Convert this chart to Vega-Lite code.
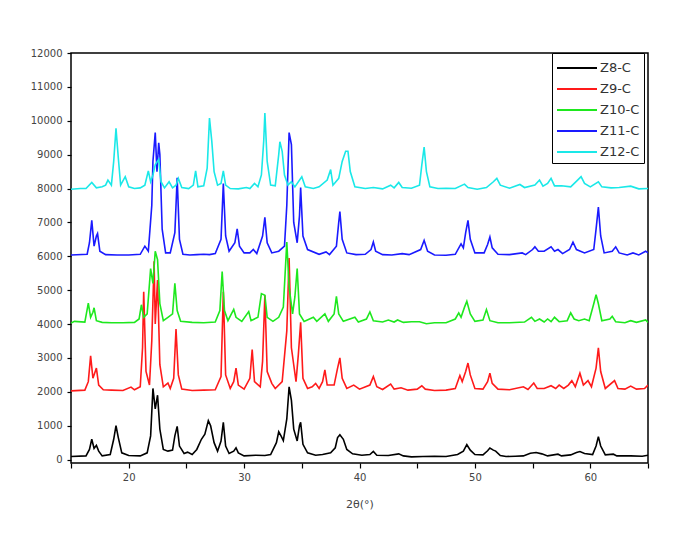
{
  "$schema": "https://vega.github.io/schema/vega-lite/v6.json",
  "width": 577,
  "height": 410,
  "autosize": {"type": "none"},
  "padding": {"left": 71, "top": 53, "right": 45, "bottom": 83},
  "background": "white",
  "config": {
    "view": {"stroke": "black", "strokeWidth": 1.5},
    "font": "DejaVu Sans"
  },
  "datasets": {
    "xrd": [
      {"s":"Z8-C","x":15.0,"y":90},{"s":"Z8-C","x":16.3,"y":110},{"s":"Z8-C","x":16.6,"y":300},{"s":"Z8-C","x":16.8,"y":600},{"s":"Z8-C","x":17.0,"y":330},{"s":"Z8-C","x":17.2,"y":420},{"s":"Z8-C","x":17.4,"y":250},{"s":"Z8-C","x":17.7,"y":110},{"s":"Z8-C","x":18.4,"y":150},{"s":"Z8-C","x":18.7,"y":600},{"s":"Z8-C","x":18.9,"y":1000},{"s":"Z8-C","x":19.1,"y":650},{"s":"Z8-C","x":19.4,"y":200},{"s":"Z8-C","x":20.0,"y":120},{"s":"Z8-C","x":21.0,"y":110},{"s":"Z8-C","x":21.6,"y":200},{"s":"Z8-C","x":21.9,"y":700},{"s":"Z8-C","x":22.1,"y":2100},{"s":"Z8-C","x":22.3,"y":1500},{"s":"Z8-C","x":22.5,"y":1900},{"s":"Z8-C","x":22.7,"y":900},{"s":"Z8-C","x":23.0,"y":300},{"s":"Z8-C","x":23.4,"y":250},{"s":"Z8-C","x":23.8,"y":280},{"s":"Z8-C","x":24.0,"y":700},{"s":"Z8-C","x":24.2,"y":980},{"s":"Z8-C","x":24.4,"y":400},{"s":"Z8-C","x":24.8,"y":180},{"s":"Z8-C","x":25.1,"y":220},{"s":"Z8-C","x":25.5,"y":150},{"s":"Z8-C","x":25.9,"y":300},{"s":"Z8-C","x":26.3,"y":600},{"s":"Z8-C","x":26.6,"y":750},{"s":"Z8-C","x":26.9,"y":1150},{"s":"Z8-C","x":27.1,"y":1000},{"s":"Z8-C","x":27.4,"y":500},{"s":"Z8-C","x":27.7,"y":250},{"s":"Z8-C","x":28.0,"y":550},{"s":"Z8-C","x":28.2,"y":1100},{"s":"Z8-C","x":28.4,"y":400},{"s":"Z8-C","x":28.7,"y":180},{"s":"Z8-C","x":29.1,"y":250},{"s":"Z8-C","x":29.3,"y":350},{"s":"Z8-C","x":29.5,"y":200},{"s":"Z8-C","x":30.0,"y":110},{"s":"Z8-C","x":31.0,"y":130},{"s":"Z8-C","x":31.8,"y":120},{"s":"Z8-C","x":32.3,"y":150},{"s":"Z8-C","x":32.8,"y":500},{"s":"Z8-C","x":33.0,"y":820},{"s":"Z8-C","x":33.2,"y":700},{"s":"Z8-C","x":33.4,"y":560},{"s":"Z8-C","x":33.7,"y":1200},{"s":"Z8-C","x":33.9,"y":2150},{"s":"Z8-C","x":34.1,"y":1750},{"s":"Z8-C","x":34.3,"y":900},{"s":"Z8-C","x":34.6,"y":550},{"s":"Z8-C","x":34.8,"y":1000},{"s":"Z8-C","x":34.9,"y":1100},{"s":"Z8-C","x":35.1,"y":450},{"s":"Z8-C","x":35.5,"y":200},{"s":"Z8-C","x":36.2,"y":130},{"s":"Z8-C","x":36.8,"y":150},{"s":"Z8-C","x":37.5,"y":200},{"s":"Z8-C","x":37.9,"y":350},{"s":"Z8-C","x":38.1,"y":650},{"s":"Z8-C","x":38.3,"y":730},{"s":"Z8-C","x":38.6,"y":600},{"s":"Z8-C","x":38.9,"y":300},{"s":"Z8-C","x":39.4,"y":170},{"s":"Z8-C","x":40.2,"y":130},{"s":"Z8-C","x":40.9,"y":150},{"s":"Z8-C","x":41.2,"y":240},{"s":"Z8-C","x":41.5,"y":130},{"s":"Z8-C","x":42.5,"y":120},{"s":"Z8-C","x":43.4,"y":170},{"s":"Z8-C","x":43.8,"y":110},{"s":"Z8-C","x":44.5,"y":80},{"s":"Z8-C","x":45.5,"y":90},{"s":"Z8-C","x":46.5,"y":100},{"s":"Z8-C","x":47.5,"y":90},{"s":"Z8-C","x":48.5,"y":150},{"s":"Z8-C","x":49.0,"y":250},{"s":"Z8-C","x":49.3,"y":440},{"s":"Z8-C","x":49.6,"y":280},{"s":"Z8-C","x":50.0,"y":150},{"s":"Z8-C","x":50.7,"y":140},{"s":"Z8-C","x":51.1,"y":260},{"s":"Z8-C","x":51.3,"y":340},{"s":"Z8-C","x":51.6,"y":280},{"s":"Z8-C","x":51.8,"y":250},{"s":"Z8-C","x":52.2,"y":120},{"s":"Z8-C","x":52.7,"y":90},{"s":"Z8-C","x":53.5,"y":100},{"s":"Z8-C","x":54.2,"y":110},{"s":"Z8-C","x":54.8,"y":190},{"s":"Z8-C","x":55.3,"y":210},{"s":"Z8-C","x":55.8,"y":170},{"s":"Z8-C","x":56.3,"y":110},{"s":"Z8-C","x":57.2,"y":160},{"s":"Z8-C","x":57.5,"y":110},{"s":"Z8-C","x":58.3,"y":140},{"s":"Z8-C","x":58.8,"y":210},{"s":"Z8-C","x":59.1,"y":240},{"s":"Z8-C","x":59.5,"y":180},{"s":"Z8-C","x":60.2,"y":150},{"s":"Z8-C","x":60.5,"y":400},{"s":"Z8-C","x":60.7,"y":680},{"s":"Z8-C","x":60.9,"y":400},{"s":"Z8-C","x":61.3,"y":140},{"s":"Z8-C","x":62.0,"y":160},{"s":"Z8-C","x":62.3,"y":110},{"s":"Z8-C","x":63.5,"y":110},{"s":"Z8-C","x":64.5,"y":100},{"s":"Z8-C","x":65.0,"y":130},

      {"s":"Z9-C","x":15.0,"y":2030},{"s":"Z9-C","x":16.2,"y":2050},{"s":"Z9-C","x":16.5,"y":2300},{"s":"Z9-C","x":16.7,"y":3060},{"s":"Z9-C","x":16.9,"y":2400},{"s":"Z9-C","x":17.1,"y":2600},{"s":"Z9-C","x":17.2,"y":2700},{"s":"Z9-C","x":17.4,"y":2200},{"s":"Z9-C","x":17.8,"y":2060},{"s":"Z9-C","x":18.5,"y":2050},{"s":"Z9-C","x":19.5,"y":2040},{"s":"Z9-C","x":20.2,"y":2140},{"s":"Z9-C","x":20.5,"y":2060},{"s":"Z9-C","x":21.0,"y":2150},{"s":"Z9-C","x":21.2,"y":3300},{"s":"Z9-C","x":21.3,"y":4950},{"s":"Z9-C","x":21.5,"y":2600},{"s":"Z9-C","x":21.8,"y":2200},{"s":"Z9-C","x":22.0,"y":3500},{"s":"Z9-C","x":22.2,"y":5850},{"s":"Z9-C","x":22.3,"y":4000},{"s":"Z9-C","x":22.5,"y":5300},{"s":"Z9-C","x":22.7,"y":2800},{"s":"Z9-C","x":23.0,"y":2150},{"s":"Z9-C","x":23.4,"y":2260},{"s":"Z9-C","x":23.6,"y":2100},{"s":"Z9-C","x":23.9,"y":2400},{"s":"Z9-C","x":24.1,"y":3850},{"s":"Z9-C","x":24.3,"y":2500},{"s":"Z9-C","x":24.6,"y":2080},{"s":"Z9-C","x":25.5,"y":2040},{"s":"Z9-C","x":26.5,"y":2050},{"s":"Z9-C","x":27.5,"y":2060},{"s":"Z9-C","x":28.0,"y":2450},{"s":"Z9-C","x":28.2,"y":4950},{"s":"Z9-C","x":28.4,"y":2500},{"s":"Z9-C","x":28.8,"y":2100},{"s":"Z9-C","x":29.1,"y":2300},{"s":"Z9-C","x":29.3,"y":2700},{"s":"Z9-C","x":29.5,"y":2200},{"s":"Z9-C","x":30.0,"y":2080},{"s":"Z9-C","x":30.5,"y":2400},{"s":"Z9-C","x":30.7,"y":3250},{"s":"Z9-C","x":30.9,"y":2300},{"s":"Z9-C","x":31.4,"y":2150},{"s":"Z9-C","x":31.6,"y":2900},{"s":"Z9-C","x":31.8,"y":4850},{"s":"Z9-C","x":32.0,"y":2600},{"s":"Z9-C","x":32.4,"y":2250},{"s":"Z9-C","x":32.7,"y":2100},{"s":"Z9-C","x":33.3,"y":2300},{"s":"Z9-C","x":33.7,"y":3800},{"s":"Z9-C","x":33.9,"y":5950},{"s":"Z9-C","x":34.1,"y":3300},{"s":"Z9-C","x":34.3,"y":2800},{"s":"Z9-C","x":34.5,"y":2300},{"s":"Z9-C","x":34.7,"y":3100},{"s":"Z9-C","x":34.9,"y":4050},{"s":"Z9-C","x":35.1,"y":2400},{"s":"Z9-C","x":35.5,"y":2100},{"s":"Z9-C","x":35.9,"y":2150},{"s":"Z9-C","x":36.2,"y":2250},{"s":"Z9-C","x":36.5,"y":2100},{"s":"Z9-C","x":36.8,"y":2300},{"s":"Z9-C","x":37.0,"y":2650},{"s":"Z9-C","x":37.2,"y":2200},{"s":"Z9-C","x":37.8,"y":2200},{"s":"Z9-C","x":38.1,"y":2700},{"s":"Z9-C","x":38.3,"y":3000},{"s":"Z9-C","x":38.5,"y":2400},{"s":"Z9-C","x":38.9,"y":2100},{"s":"Z9-C","x":39.5,"y":2200},{"s":"Z9-C","x":40.0,"y":2080},{"s":"Z9-C","x":40.9,"y":2200},{"s":"Z9-C","x":41.2,"y":2450},{"s":"Z9-C","x":41.5,"y":2150},{"s":"Z9-C","x":42.0,"y":2070},{"s":"Z9-C","x":42.7,"y":2230},{"s":"Z9-C","x":43.0,"y":2080},{"s":"Z9-C","x":43.6,"y":2120},{"s":"Z9-C","x":44.2,"y":2050},{"s":"Z9-C","x":45.0,"y":2080},{"s":"Z9-C","x":45.4,"y":2180},{"s":"Z9-C","x":45.7,"y":2080},{"s":"Z9-C","x":46.5,"y":2040},{"s":"Z9-C","x":47.5,"y":2050},{"s":"Z9-C","x":48.3,"y":2100},{"s":"Z9-C","x":48.7,"y":2480},{"s":"Z9-C","x":48.9,"y":2300},{"s":"Z9-C","x":49.2,"y":2600},{"s":"Z9-C","x":49.4,"y":2850},{"s":"Z9-C","x":49.6,"y":2500},{"s":"Z9-C","x":50.0,"y":2100},{"s":"Z9-C","x":50.7,"y":2080},{"s":"Z9-C","x":51.1,"y":2300},{"s":"Z9-C","x":51.3,"y":2550},{"s":"Z9-C","x":51.5,"y":2250},{"s":"Z9-C","x":52.0,"y":2080},{"s":"Z9-C","x":53.0,"y":2060},{"s":"Z9-C","x":54.2,"y":2150},{"s":"Z9-C","x":54.6,"y":2070},{"s":"Z9-C","x":55.1,"y":2260},{"s":"Z9-C","x":55.4,"y":2100},{"s":"Z9-C","x":56.0,"y":2100},{"s":"Z9-C","x":56.6,"y":2180},{"s":"Z9-C","x":57.0,"y":2100},{"s":"Z9-C","x":57.3,"y":2200},{"s":"Z9-C","x":57.7,"y":2100},{"s":"Z9-C","x":58.1,"y":2200},{"s":"Z9-C","x":58.4,"y":2330},{"s":"Z9-C","x":58.7,"y":2150},{"s":"Z9-C","x":59.1,"y":2550},{"s":"Z9-C","x":59.4,"y":2200},{"s":"Z9-C","x":59.8,"y":2330},{"s":"Z9-C","x":60.1,"y":2150},{"s":"Z9-C","x":60.5,"y":2700},{"s":"Z9-C","x":60.7,"y":3300},{"s":"Z9-C","x":60.9,"y":2600},{"s":"Z9-C","x":61.3,"y":2100},{"s":"Z9-C","x":62.1,"y":2330},{"s":"Z9-C","x":62.4,"y":2100},{"s":"Z9-C","x":63.0,"y":2080},{"s":"Z9-C","x":63.5,"y":2170},{"s":"Z9-C","x":64.0,"y":2080},{"s":"Z9-C","x":64.7,"y":2100},{"s":"Z9-C","x":65.0,"y":2200},

      {"s":"Z10-C","x":15.0,"y":4030},{"s":"Z10-C","x":15.3,"y":4080},{"s":"Z10-C","x":16.2,"y":4060},{"s":"Z10-C","x":16.5,"y":4620},{"s":"Z10-C","x":16.7,"y":4200},{"s":"Z10-C","x":16.9,"y":4350},{"s":"Z10-C","x":17.0,"y":4480},{"s":"Z10-C","x":17.2,"y":4100},{"s":"Z10-C","x":17.7,"y":4050},{"s":"Z10-C","x":18.5,"y":4040},{"s":"Z10-C","x":19.5,"y":4040},{"s":"Z10-C","x":20.5,"y":4050},{"s":"Z10-C","x":20.9,"y":4150},{"s":"Z10-C","x":21.1,"y":4570},{"s":"Z10-C","x":21.3,"y":4200},{"s":"Z10-C","x":21.6,"y":4300},{"s":"Z10-C","x":21.9,"y":5640},{"s":"Z10-C","x":22.1,"y":5200},{"s":"Z10-C","x":22.3,"y":6150},{"s":"Z10-C","x":22.5,"y":5900},{"s":"Z10-C","x":22.7,"y":4600},{"s":"Z10-C","x":23.0,"y":4100},{"s":"Z10-C","x":23.4,"y":4200},{"s":"Z10-C","x":23.8,"y":4300},{"s":"Z10-C","x":24.0,"y":5200},{"s":"Z10-C","x":24.2,"y":4400},{"s":"Z10-C","x":24.5,"y":4080},{"s":"Z10-C","x":25.5,"y":4050},{"s":"Z10-C","x":26.5,"y":4040},{"s":"Z10-C","x":27.5,"y":4060},{"s":"Z10-C","x":27.9,"y":4400},{"s":"Z10-C","x":28.1,"y":5550},{"s":"Z10-C","x":28.3,"y":4400},{"s":"Z10-C","x":28.6,"y":4100},{"s":"Z10-C","x":29.1,"y":4430},{"s":"Z10-C","x":29.3,"y":4200},{"s":"Z10-C","x":29.8,"y":4080},{"s":"Z10-C","x":30.4,"y":4370},{"s":"Z10-C","x":30.6,"y":4100},{"s":"Z10-C","x":31.2,"y":4200},{"s":"Z10-C","x":31.5,"y":4900},{"s":"Z10-C","x":31.8,"y":4850},{"s":"Z10-C","x":32.0,"y":4200},{"s":"Z10-C","x":32.5,"y":4080},{"s":"Z10-C","x":33.0,"y":4200},{"s":"Z10-C","x":33.4,"y":4500},{"s":"Z10-C","x":33.7,"y":6420},{"s":"Z10-C","x":33.9,"y":5100},{"s":"Z10-C","x":34.2,"y":4300},{"s":"Z10-C","x":34.4,"y":4800},{"s":"Z10-C","x":34.6,"y":5640},{"s":"Z10-C","x":34.8,"y":4300},{"s":"Z10-C","x":35.2,"y":4080},{"s":"Z10-C","x":36.0,"y":4200},{"s":"Z10-C","x":36.3,"y":4080},{"s":"Z10-C","x":37.0,"y":4300},{"s":"Z10-C","x":37.3,"y":4080},{"s":"Z10-C","x":37.8,"y":4300},{"s":"Z10-C","x":38.0,"y":4820},{"s":"Z10-C","x":38.2,"y":4300},{"s":"Z10-C","x":38.6,"y":4080},{"s":"Z10-C","x":39.6,"y":4200},{"s":"Z10-C","x":39.9,"y":4060},{"s":"Z10-C","x":40.6,"y":4150},{"s":"Z10-C","x":40.9,"y":4360},{"s":"Z10-C","x":41.2,"y":4100},{"s":"Z10-C","x":42.0,"y":4060},{"s":"Z10-C","x":42.5,"y":4120},{"s":"Z10-C","x":43.0,"y":4060},{"s":"Z10-C","x":43.3,"y":4120},{"s":"Z10-C","x":43.8,"y":4050},{"s":"Z10-C","x":44.5,"y":4070},{"s":"Z10-C","x":45.2,"y":4070},{"s":"Z10-C","x":45.8,"y":4010},{"s":"Z10-C","x":46.5,"y":4040},{"s":"Z10-C","x":47.5,"y":4040},{"s":"Z10-C","x":48.3,"y":4150},{"s":"Z10-C","x":48.6,"y":4330},{"s":"Z10-C","x":48.8,"y":4200},{"s":"Z10-C","x":49.1,"y":4500},{"s":"Z10-C","x":49.3,"y":4670},{"s":"Z10-C","x":49.6,"y":4300},{"s":"Z10-C","x":50.0,"y":4080},{"s":"Z10-C","x":50.7,"y":4120},{"s":"Z10-C","x":51.0,"y":4430},{"s":"Z10-C","x":51.3,"y":4100},{"s":"Z10-C","x":52.0,"y":4040},{"s":"Z10-C","x":53.0,"y":4040},{"s":"Z10-C","x":54.3,"y":4060},{"s":"Z10-C","x":54.9,"y":4200},{"s":"Z10-C","x":55.2,"y":4080},{"s":"Z10-C","x":55.6,"y":4150},{"s":"Z10-C","x":56.0,"y":4060},{"s":"Z10-C","x":56.3,"y":4150},{"s":"Z10-C","x":56.6,"y":4070},{"s":"Z10-C","x":56.9,"y":4200},{"s":"Z10-C","x":57.3,"y":4070},{"s":"Z10-C","x":58.0,"y":4100},{"s":"Z10-C","x":58.3,"y":4330},{"s":"Z10-C","x":58.6,"y":4150},{"s":"Z10-C","x":59.0,"y":4100},{"s":"Z10-C","x":59.5,"y":4150},{"s":"Z10-C","x":59.9,"y":4100},{"s":"Z10-C","x":60.3,"y":4600},{"s":"Z10-C","x":60.5,"y":4870},{"s":"Z10-C","x":60.7,"y":4600},{"s":"Z10-C","x":61.0,"y":4100},{"s":"Z10-C","x":61.7,"y":4150},{"s":"Z10-C","x":61.9,"y":4230},{"s":"Z10-C","x":62.2,"y":4070},{"s":"Z10-C","x":63.0,"y":4040},{"s":"Z10-C","x":63.5,"y":4100},{"s":"Z10-C","x":64.0,"y":4050},{"s":"Z10-C","x":64.8,"y":4120},{"s":"Z10-C","x":65.0,"y":4050},

      {"s":"Z11-C","x":15.0,"y":6040},{"s":"Z11-C","x":16.4,"y":6060},{"s":"Z11-C","x":16.6,"y":6400},{"s":"Z11-C","x":16.8,"y":7060},{"s":"Z11-C","x":17.0,"y":6300},{"s":"Z11-C","x":17.2,"y":6600},{"s":"Z11-C","x":17.3,"y":6670},{"s":"Z11-C","x":17.5,"y":6150},{"s":"Z11-C","x":18.0,"y":6050},{"s":"Z11-C","x":19.0,"y":6040},{"s":"Z11-C","x":20.0,"y":6040},{"s":"Z11-C","x":21.0,"y":6060},{"s":"Z11-C","x":21.4,"y":6300},{"s":"Z11-C","x":21.7,"y":6150},{"s":"Z11-C","x":22.0,"y":7500},{"s":"Z11-C","x":22.1,"y":8800},{"s":"Z11-C","x":22.3,"y":9650},{"s":"Z11-C","x":22.45,"y":8500},{"s":"Z11-C","x":22.6,"y":9350},{"s":"Z11-C","x":22.7,"y":9000},{"s":"Z11-C","x":22.9,"y":6800},{"s":"Z11-C","x":23.2,"y":6100},{"s":"Z11-C","x":23.6,"y":6100},{"s":"Z11-C","x":24.0,"y":6700},{"s":"Z11-C","x":24.2,"y":8320},{"s":"Z11-C","x":24.4,"y":6500},{"s":"Z11-C","x":24.7,"y":6060},{"s":"Z11-C","x":25.3,"y":6040},{"s":"Z11-C","x":25.9,"y":6050},{"s":"Z11-C","x":26.5,"y":6060},{"s":"Z11-C","x":27.0,"y":6050},{"s":"Z11-C","x":27.5,"y":6080},{"s":"Z11-C","x":28.0,"y":6500},{"s":"Z11-C","x":28.2,"y":8150},{"s":"Z11-C","x":28.4,"y":6600},{"s":"Z11-C","x":28.7,"y":6150},{"s":"Z11-C","x":29.2,"y":6400},{"s":"Z11-C","x":29.4,"y":6810},{"s":"Z11-C","x":29.6,"y":6300},{"s":"Z11-C","x":30.0,"y":6100},{"s":"Z11-C","x":30.5,"y":6100},{"s":"Z11-C","x":30.8,"y":6200},{"s":"Z11-C","x":31.1,"y":6080},{"s":"Z11-C","x":31.6,"y":6600},{"s":"Z11-C","x":31.8,"y":7150},{"s":"Z11-C","x":32.0,"y":6400},{"s":"Z11-C","x":32.4,"y":6100},{"s":"Z11-C","x":33.0,"y":6150},{"s":"Z11-C","x":33.5,"y":6300},{"s":"Z11-C","x":33.7,"y":7500},{"s":"Z11-C","x":33.9,"y":9650},{"s":"Z11-C","x":34.1,"y":9300},{"s":"Z11-C","x":34.3,"y":7000},{"s":"Z11-C","x":34.6,"y":6400},{"s":"Z11-C","x":34.8,"y":7200},{"s":"Z11-C","x":34.9,"y":8030},{"s":"Z11-C","x":35.1,"y":6600},{"s":"Z11-C","x":35.5,"y":6200},{"s":"Z11-C","x":36.5,"y":6060},{"s":"Z11-C","x":37.1,"y":6130},{"s":"Z11-C","x":37.4,"y":6050},{"s":"Z11-C","x":38.0,"y":6300},{"s":"Z11-C","x":38.2,"y":7000},{"s":"Z11-C","x":38.3,"y":7320},{"s":"Z11-C","x":38.5,"y":6500},{"s":"Z11-C","x":38.9,"y":6100},{"s":"Z11-C","x":39.7,"y":6050},{"s":"Z11-C","x":40.5,"y":6060},{"s":"Z11-C","x":41.0,"y":6200},{"s":"Z11-C","x":41.2,"y":6420},{"s":"Z11-C","x":41.4,"y":6150},{"s":"Z11-C","x":42.0,"y":6050},{"s":"Z11-C","x":42.8,"y":6040},{"s":"Z11-C","x":43.7,"y":6080},{"s":"Z11-C","x":44.3,"y":6050},{"s":"Z11-C","x":45.3,"y":6200},{"s":"Z11-C","x":45.6,"y":6470},{"s":"Z11-C","x":45.9,"y":6150},{"s":"Z11-C","x":46.5,"y":6040},{"s":"Z11-C","x":47.5,"y":6030},{"s":"Z11-C","x":48.3,"y":6060},{"s":"Z11-C","x":48.8,"y":6370},{"s":"Z11-C","x":49.0,"y":6250},{"s":"Z11-C","x":49.2,"y":6700},{"s":"Z11-C","x":49.4,"y":7060},{"s":"Z11-C","x":49.6,"y":6500},{"s":"Z11-C","x":50.0,"y":6100},{"s":"Z11-C","x":50.8,"y":6100},{"s":"Z11-C","x":51.1,"y":6350},{"s":"Z11-C","x":51.3,"y":6570},{"s":"Z11-C","x":51.5,"y":6250},{"s":"Z11-C","x":52.0,"y":6060},{"s":"Z11-C","x":53.0,"y":6050},{"s":"Z11-C","x":54.1,"y":6100},{"s":"Z11-C","x":54.4,"y":6050},{"s":"Z11-C","x":55.0,"y":6200},{"s":"Z11-C","x":55.2,"y":6280},{"s":"Z11-C","x":55.5,"y":6150},{"s":"Z11-C","x":56.0,"y":6150},{"s":"Z11-C","x":56.6,"y":6280},{"s":"Z11-C","x":56.9,"y":6150},{"s":"Z11-C","x":57.2,"y":6200},{"s":"Z11-C","x":57.6,"y":6080},{"s":"Z11-C","x":58.2,"y":6200},{"s":"Z11-C","x":58.5,"y":6420},{"s":"Z11-C","x":58.8,"y":6200},{"s":"Z11-C","x":59.5,"y":6100},{"s":"Z11-C","x":60.3,"y":6200},{"s":"Z11-C","x":60.5,"y":6800},{"s":"Z11-C","x":60.7,"y":7450},{"s":"Z11-C","x":60.9,"y":6600},{"s":"Z11-C","x":61.2,"y":6100},{"s":"Z11-C","x":61.9,"y":6150},{"s":"Z11-C","x":62.2,"y":6280},{"s":"Z11-C","x":62.5,"y":6100},{"s":"Z11-C","x":63.2,"y":6040},{"s":"Z11-C","x":63.7,"y":6100},{"s":"Z11-C","x":64.2,"y":6040},{"s":"Z11-C","x":64.8,"y":6150},{"s":"Z11-C","x":65.0,"y":6100},

      {"s":"Z12-C","x":15.0,"y":7980},{"s":"Z12-C","x":15.8,"y":8000},{"s":"Z12-C","x":16.3,"y":8000},{"s":"Z12-C","x":16.8,"y":8180},{"s":"Z12-C","x":17.2,"y":8020},{"s":"Z12-C","x":17.7,"y":8050},{"s":"Z12-C","x":18.0,"y":8100},{"s":"Z12-C","x":18.2,"y":8250},{"s":"Z12-C","x":18.5,"y":8100},{"s":"Z12-C","x":18.7,"y":8800},{"s":"Z12-C","x":18.9,"y":9780},{"s":"Z12-C","x":19.1,"y":8900},{"s":"Z12-C","x":19.3,"y":8100},{"s":"Z12-C","x":19.7,"y":8350},{"s":"Z12-C","x":20.0,"y":8050},{"s":"Z12-C","x":20.5,"y":8000},{"s":"Z12-C","x":21.0,"y":8020},{"s":"Z12-C","x":21.4,"y":8100},{"s":"Z12-C","x":21.7,"y":8520},{"s":"Z12-C","x":21.9,"y":8200},{"s":"Z12-C","x":22.1,"y":8400},{"s":"Z12-C","x":22.3,"y":8700},{"s":"Z12-C","x":22.6,"y":8860},{"s":"Z12-C","x":22.8,"y":8200},{"s":"Z12-C","x":23.1,"y":8020},{"s":"Z12-C","x":23.5,"y":8200},{"s":"Z12-C","x":23.8,"y":8020},{"s":"Z12-C","x":24.1,"y":8100},{"s":"Z12-C","x":24.3,"y":8300},{"s":"Z12-C","x":24.6,"y":8030},{"s":"Z12-C","x":25.2,"y":8000},{"s":"Z12-C","x":25.6,"y":8100},{"s":"Z12-C","x":25.8,"y":8520},{"s":"Z12-C","x":26.0,"y":8050},{"s":"Z12-C","x":26.5,"y":8080},{"s":"Z12-C","x":26.8,"y":8600},{"s":"Z12-C","x":27.0,"y":10080},{"s":"Z12-C","x":27.2,"y":9400},{"s":"Z12-C","x":27.4,"y":8500},{"s":"Z12-C","x":27.7,"y":8100},{"s":"Z12-C","x":28.0,"y":8150},{"s":"Z12-C","x":28.2,"y":8520},{"s":"Z12-C","x":28.4,"y":8100},{"s":"Z12-C","x":28.8,"y":8000},{"s":"Z12-C","x":29.5,"y":7990},{"s":"Z12-C","x":30.2,"y":8030},{"s":"Z12-C","x":30.5,"y":8000},{"s":"Z12-C","x":30.9,"y":8150},{"s":"Z12-C","x":31.2,"y":8050},{"s":"Z12-C","x":31.5,"y":8400},{"s":"Z12-C","x":31.7,"y":9400},{"s":"Z12-C","x":31.8,"y":10230},{"s":"Z12-C","x":32.0,"y":8800},{"s":"Z12-C","x":32.3,"y":8100},{"s":"Z12-C","x":32.7,"y":8080},{"s":"Z12-C","x":33.0,"y":9000},{"s":"Z12-C","x":33.1,"y":9380},{"s":"Z12-C","x":33.3,"y":9100},{"s":"Z12-C","x":33.5,"y":8400},{"s":"Z12-C","x":33.8,"y":8100},{"s":"Z12-C","x":34.1,"y":8200},{"s":"Z12-C","x":34.4,"y":8050},{"s":"Z12-C","x":35.0,"y":8350},{"s":"Z12-C","x":35.3,"y":8050},{"s":"Z12-C","x":36.0,"y":8000},{"s":"Z12-C","x":36.5,"y":8050},{"s":"Z12-C","x":37.2,"y":8250},{"s":"Z12-C","x":37.5,"y":8560},{"s":"Z12-C","x":37.7,"y":8100},{"s":"Z12-C","x":38.2,"y":8300},{"s":"Z12-C","x":38.5,"y":8800},{"s":"Z12-C","x":38.8,"y":9100},{"s":"Z12-C","x":39.0,"y":9100},{"s":"Z12-C","x":39.2,"y":8500},{"s":"Z12-C","x":39.6,"y":8050},{"s":"Z12-C","x":40.5,"y":8000},{"s":"Z12-C","x":41.2,"y":8030},{"s":"Z12-C","x":42.0,"y":7990},{"s":"Z12-C","x":42.7,"y":8100},{"s":"Z12-C","x":43.0,"y":8020},{"s":"Z12-C","x":43.4,"y":8180},{"s":"Z12-C","x":43.7,"y":8030},{"s":"Z12-C","x":44.5,"y":8010},{"s":"Z12-C","x":45.2,"y":8100},{"s":"Z12-C","x":45.4,"y":8700},{"s":"Z12-C","x":45.6,"y":9220},{"s":"Z12-C","x":45.8,"y":8500},{"s":"Z12-C","x":46.1,"y":8050},{"s":"Z12-C","x":46.8,"y":8000},{"s":"Z12-C","x":47.5,"y":8010},{"s":"Z12-C","x":48.3,"y":8000},{"s":"Z12-C","x":49.1,"y":8130},{"s":"Z12-C","x":49.4,"y":8030},{"s":"Z12-C","x":50.2,"y":7980},{"s":"Z12-C","x":51.0,"y":8030},{"s":"Z12-C","x":51.6,"y":8200},{"s":"Z12-C","x":51.9,"y":8300},{"s":"Z12-C","x":52.2,"y":8100},{"s":"Z12-C","x":53.0,"y":8010},{"s":"Z12-C","x":53.9,"y":8120},{"s":"Z12-C","x":54.3,"y":8030},{"s":"Z12-C","x":55.2,"y":8100},{"s":"Z12-C","x":55.6,"y":8250},{"s":"Z12-C","x":55.9,"y":8070},{"s":"Z12-C","x":56.3,"y":8150},{"s":"Z12-C","x":56.6,"y":8300},{"s":"Z12-C","x":56.9,"y":8080},{"s":"Z12-C","x":57.5,"y":8080},{"s":"Z12-C","x":58.3,"y":8050},{"s":"Z12-C","x":58.9,"y":8250},{"s":"Z12-C","x":59.2,"y":8350},{"s":"Z12-C","x":59.5,"y":8150},{"s":"Z12-C","x":60.0,"y":8050},{"s":"Z12-C","x":60.7,"y":8200},{"s":"Z12-C","x":61.0,"y":8050},{"s":"Z12-C","x":61.8,"y":8020},{"s":"Z12-C","x":62.5,"y":8030},{"s":"Z12-C","x":63.5,"y":8070},{"s":"Z12-C","x":64.2,"y":7990},{"s":"Z12-C","x":65.0,"y":8000}
    ]
  },
  "data": {"name": "xrd"},
  "mark": {"type": "line", "strokeWidth": 1.6, "clip": true},
  "encoding": {
    "x": {
      "field": "x", "type": "quantitative",
      "scale": {"domain": [15, 65], "nice": false, "zero": false},
      "axis": {
        "title": "2θ(°)", "values": [15, 20, 25, 30, 35, 40, 45, 50, 55, 60, 65],
        "labelExpr": "datum.value % 10 == 0 && datum.value > 15 && datum.value < 65 ? datum.label : ''",
        "grid": false, "domain": false, "tickColor": "black", "tickSize": 5, "tickWidth": 1.2,
        "labelFontSize": 10, "labelColor": "#444", "labelPadding": 4,
        "titleFontSize": 11, "titleFontWeight": "normal", "titleColor": "#444", "titlePadding": 16
      }
    },
    "y": {
      "field": "y", "type": "quantitative",
      "scale": {"domain": [-100, 12000], "nice": false, "zero": false},
      "axis": {
        "title": null, "values": [0,1000,2000,3000,4000,5000,6000,7000,8000,9000,10000,11000,12000],
        "format": "d", "grid": false, "domain": false, "tickColor": "black", "tickSize": 4, "tickWidth": 1.2,
        "labelFontSize": 10, "labelColor": "#444", "labelPadding": 5
      }
    },
    "color": {
      "field": "s", "type": "nominal",
      "scale": {"domain": ["Z8-C", "Z9-C", "Z10-C", "Z11-C", "Z12-C"], "range": ["#000000", "#ff1a1a", "#1ee81e", "#1a1aff", "#1ae8e8"]},
      "legend": {
        "title": null, "orient": "none", "legendX": 481, "legendY": 0,
        "symbolType": "M-1,0L3,0", "symbolSize": 400, "symbolStrokeWidth": 2,
        "labelFontSize": 13, "labelColor": "#333", "labelOffset": 22,
        "rowPadding": 3, "padding": 4,
        "strokeColor": "black", "fillColor": "white"
      }
    }
  }
}
